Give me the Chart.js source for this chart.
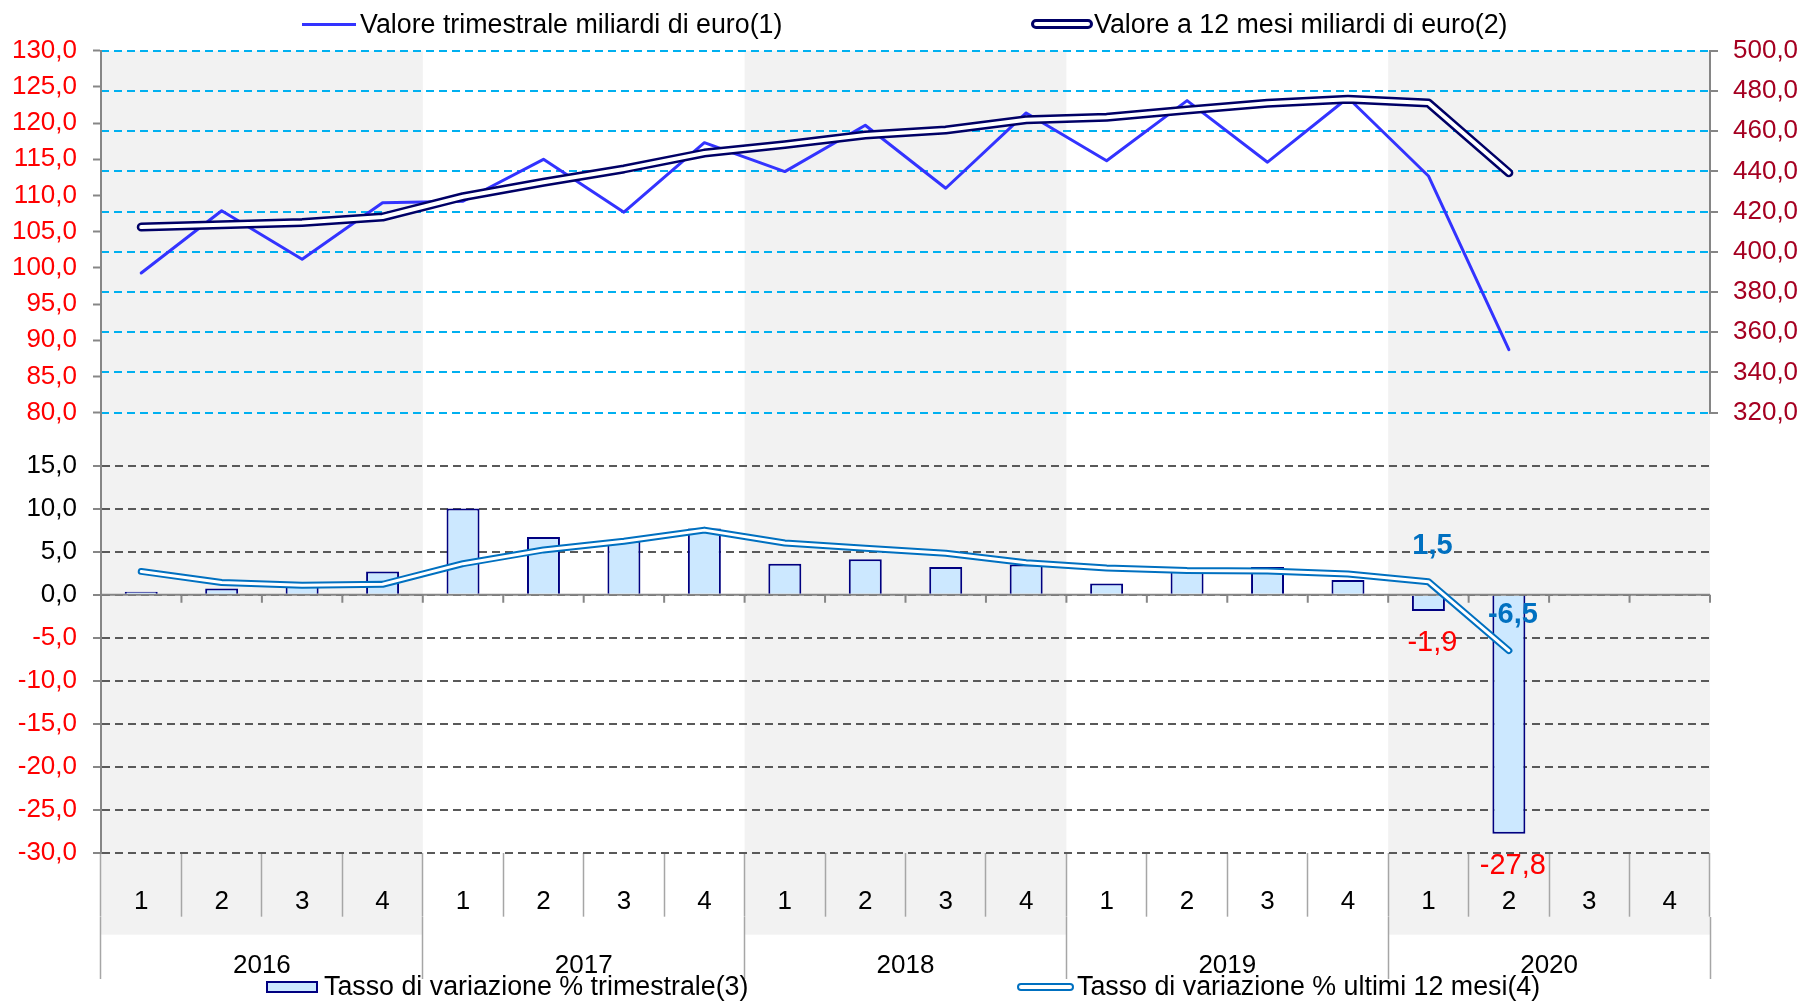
<!DOCTYPE html>
<html lang="it">
<head>
<meta charset="utf-8">
<title>Valore trimestrale e tasso di variazione</title>
<script src="https://cdn.jsdelivr.net/npm/chart.js@4.4.1/dist/chart.umd.min.js"></script>
<style>
    html, body { margin: 0; padding: 0; background: #fff; }
    body { width: 1805px; height: 1001px; position: relative; overflow: hidden;
           font-family: "Liberation Sans", Arial, sans-serif; }
    .panel { position: absolute; left: 0; width: 1805px; }
    #topPanel { top: 0; height: 431px; }
    #bottomPanel { top: 431px; height: 570px; }
    .sample { position: absolute; box-sizing: border-box; }
    .legend-text { position: absolute; font-size: 26.8px; line-height: 30px; color: #000; white-space: nowrap; }
</style>
</head>
<body>
<div id="topPanel" class="panel"><canvas id="topChart"></canvas></div>
<div id="bottomPanel" class="panel"><canvas id="bottomChart"></canvas></div>

<div class="sample" style="left:302px; top:22.5px; width:54px; height:3.5px; background:#3333ff;"></div>
<div class="legend-text" id="leg0" style="left:360px; top:9px;"></div>
<div class="sample" style="left:1031px; top:19px; width:62px; height:10px; border:3px solid #000066; border-radius:5px; background:#fff;"></div>
<div class="legend-text" id="leg1" style="left:1094px; top:9px;"></div>
<div class="sample" style="left:266px; top:981px; width:52px; height:12px; border:2px solid #000080; background:#cce8ff;"></div>
<div class="legend-text" id="leg2" style="left:324px; top:971px;"></div>
<div class="sample" style="left:1017px; top:983px; width:57px; height:8px; border:2.5px solid #0070c0; border-radius:4px; background:#fff;"></div>
<div class="legend-text" id="leg3" style="left:1077px; top:971px;"></div>

<script>
const quarters = ['1', '2', '3', '4', '1', '2', '3', '4', '1', '2', '3', '4', '1', '2', '3', '4', '1', '2', '3', '4'];
const years = ['2016', '2017', '2018', '2019', '2020'];

const seriesNames = [
    'Valore trimestrale miliardi di euro(1)',
    'Valore a 12 mesi miliardi di euro(2)',
    'Tasso di variazione % trimestrale(3)',
    'Tasso di variazione % ultimi 12 mesi(4)'
];

// miliardi di euro
const valoreTrimestrale = [99.3, 107.9, 101.2, 109.0, 109.2, 115.0, 107.7, 117.3, 113.3, 119.7,
    111.0, 121.4, 114.8, 123.1, 114.6, 123.5, 112.7, 88.7, null, null];
const valore12Mesi = [412.3, 413.5, 414.6, 417.3, 427.4, 434.6, 441.2, 449.1, 453.3, 458.1,
    460.6, 465.7, 466.9, 470.5, 473.9, 475.8, 474.0, 439.3, null, null];

// tassi di variazione %
const tassoTrimestrale = [0.1, 0.7, 1.2, 2.7, 10.0, 6.7, 6.3, 7.7, 3.6, 4.1,
    3.2, 3.5, 1.3, 2.8, 3.2, 1.7, -1.9, -27.8, null, null];
const tasso12Mesi = [2.7, 1.4, 1.1, 1.2, 3.6, 5.2, 6.2, 7.5, 6.0, 5.4,
    4.8, 3.7, 3.1, 2.8, 2.75, 2.4, 1.5, -6.5, null, null];

// quarters that get a value label
const labelIndex = [16, 17];

const fmt = (v) => Number(v).toFixed(1).replace('.', ',');

document.addEventListener('DOMContentLoaded', () => {
    seriesNames.forEach((name, i) => {
        document.getElementById('leg' + i).textContent = name;
    });

    Chart.defaults.font.family = '"Liberation Sans", Arial, sans-serif';
    Chart.defaults.font.size = 26;
    Chart.defaults.color = '#000';

    const axisGray = '#868686';

    // grey bands behind even years
    function yearBands(getTop, getBottom) {
        return {
            id: 'yearBands',
            beforeDraw(chart) {
                const {ctx, scales: {x}} = chart;
                const half = (x.getPixelForValue(1) - x.getPixelForValue(0)) / 2;
                const top = getTop(chart);
                const bottom = getBottom(chart);
                ctx.save();
                ctx.fillStyle = '#f2f2f2';
                years.forEach((year, i) => {
                    if (i % 2) return;
                    const x0 = x.getPixelForValue(i * 4) - half;
                    const x1 = x.getPixelForValue(i * 4 + 3) + half;
                    ctx.fillRect(x0, top, x1 - x0, bottom - top);
                });
                ctx.restore();
            }
        };
    }

    // left axis line runs on through the gap between the panels
    function axisLink(getFrom, getTo) {
        return {
            id: 'axisLink',
            afterDraw(chart) {
                const {ctx, chartArea} = chart;
                ctx.save();
                ctx.strokeStyle = axisGray;
                ctx.lineWidth = 2;
                ctx.beginPath();
                ctx.moveTo(chartArea.left, getFrom(chart));
                ctx.lineTo(chartArea.left, getTo(chart));
                ctx.stroke();
                ctx.restore();
            }
        };
    }

    const zeroLine = {
        id: 'zeroLine',
        beforeDatasetsDraw(chart) {
            const {ctx, chartArea, scales: {x, y}} = chart;
            const y0 = y.getPixelForValue(0);
            const half = (x.getPixelForValue(1) - x.getPixelForValue(0)) / 2;
            ctx.save();
            ctx.strokeStyle = axisGray;
            ctx.lineWidth = 2;
            ctx.beginPath();
            ctx.moveTo(chartArea.left, y0);
            ctx.lineTo(chartArea.right, y0);
            for (let i = 0; i < quarters.length; i++) {
                const px = x.getPixelForValue(i) + half;
                ctx.moveTo(px, y0);
                ctx.lineTo(px, y0 + 8);
            }
            ctx.stroke();
            ctx.restore();
        }
    };

    const valueLabels = {
        id: 'valueLabels',
        afterDatasetsDraw(chart) {
            const {ctx} = chart;
            const bars = chart.getDatasetMeta(0).data;
            const line = chart.getDatasetMeta(1).data;
            ctx.save();
            ctx.textAlign = 'center';
            ctx.textBaseline = 'middle';
            labelIndex.forEach((i) => {
                ctx.font = '29px "Liberation Sans", Arial, sans-serif';
                ctx.fillStyle = '#ff0000';
                ctx.fillText(fmt(tassoTrimestrale[i]), bars[i].x + 4, bars[i].y + 32);
                ctx.font = 'bold 29px "Liberation Sans", Arial, sans-serif';
                ctx.fillStyle = '#0070c0';
                ctx.fillText(fmt(tasso12Mesi[i]), line[i].x + 4, line[i].y - 36);
            });
            ctx.restore();
        }
    };

    // Top panel: values
    const ctxTop = document.getElementById('topChart').getContext('2d');
    new Chart(ctxTop, {
        type: 'line',
        data: {
            labels: quarters,
            datasets: [{
                label: seriesNames[0],
                data: valoreTrimestrale,
                yAxisID: 'y',
                borderColor: '#3333ff',
                borderWidth: 3,
                order: 3
            }, {
                label: seriesNames[1],
                data: valore12Mesi,
                yAxisID: 'y2',
                borderColor: '#000066',
                borderWidth: 9,
                order: 2
            }, {
                label: 'core',
                data: valore12Mesi,
                yAxisID: 'y2',
                borderColor: '#ffffff',
                borderWidth: 4,
                order: 1
            }]
        },
        options: {
            responsive: true,
            maintainAspectRatio: false,
            animation: false,
            events: [],
            layout: { padding: { top: 50.7, bottom: 18.3, left: 0, right: 0 } },
            elements: {
                point: { radius: 0 },
                line: { tension: 0, borderCapStyle: 'round', borderJoinStyle: 'round' }
            },
            plugins: { legend: { display: false }, tooltip: { enabled: false } },
            scales: {
                x: { type: 'category', offset: true, display: false },
                y: {
                    position: 'left',
                    min: 80,
                    max: 130,
                    ticks: { stepSize: 5, color: '#ff0000', padding: 16, callback: fmt },
                    grid: { drawOnChartArea: false, tickLength: 8, tickColor: axisGray, tickWidth: 2 },
                    border: { color: axisGray, width: 2 },
                    afterFit: (s) => { s.width = 101; s.paddingTop = 10; s.paddingBottom = 10; }
                },
                y2: {
                    position: 'right',
                    min: 320,
                    max: 500,
                    ticks: { stepSize: 20, color: '#a50021', padding: 15, callback: fmt },
                    grid: { color: '#00b0f0', lineWidth: 2, tickLength: 8, tickColor: axisGray, tickWidth: 2 },
                    border: { color: axisGray, width: 2, dash: [8, 5] },
                    afterFit: (s) => { s.width = 95; s.paddingTop = 10; s.paddingBottom = 10; }
                }
            }
        },
        plugins: [
            yearBands((c) => c.chartArea.top, (c) => c.height),
            axisLink((c) => c.chartArea.bottom, (c) => c.height)
        ]
    });

    // Bottom panel: rates of change
    const ctxBottom = document.getElementById('bottomChart').getContext('2d');
    new Chart(ctxBottom, {
        type: 'bar',
        data: {
            labels: quarters,
            datasets: [{
                type: 'bar',
                label: seriesNames[2],
                data: tassoTrimestrale,
                backgroundColor: '#cce8ff',
                borderColor: '#000080',
                borderWidth: 2,
                minBarLength: 3,
                barPercentage: 0.41,
                categoryPercentage: 1,
                order: 3
            }, {
                type: 'line',
                label: seriesNames[3],
                data: tasso12Mesi,
                borderColor: '#0070c0',
                borderWidth: 7,
                order: 2
            }, {
                type: 'line',
                label: 'core',
                data: tasso12Mesi,
                borderColor: '#ffffff',
                borderWidth: 3,
                order: 1
            }]
        },
        options: {
            responsive: true,
            maintainAspectRatio: false,
            animation: false,
            events: [],
            layout: { padding: { top: 34.6, bottom: 0, left: 0, right: 95 } },
            elements: {
                point: { radius: 0 },
                line: { tension: 0, borderCapStyle: 'round', borderJoinStyle: 'round' }
            },
            plugins: { legend: { display: false }, tooltip: { enabled: false } },
            scales: {
                x: {
                    type: 'category',
                    offset: true,
                    grid: { offset: true, drawOnChartArea: false, tickLength: 64, tickColor: '#a6a6a6', tickWidth: 1.5 },
                    border: { display: false },
                    ticks: { padding: -30.5, color: '#000', maxRotation: 0, autoSkip: false },
                    afterFit: (s) => { s.height = 64.3; }
                },
                x2: {
                    type: 'category',
                    labels: years,
                    position: 'bottom',
                    weight: 1,
                    offset: true,
                    grid: { offset: true, drawOnChartArea: false, tickLength: 62, tickColor: '#a6a6a6', tickWidth: 1.5 },
                    border: { display: false },
                    ticks: { padding: -29, color: '#000', maxRotation: 0, autoSkip: false },
                    afterFit: (s) => { s.height = 84; }
                },
                y: {
                    position: 'left',
                    min: -30,
                    max: 15,
                    ticks: {
                        stepSize: 5,
                        padding: 16,
                        callback: fmt,
                        color: (c) => (c.tick && c.tick.value < 0 ? '#ff0000' : '#000000')
                    },
                    grid: { color: '#595959', lineWidth: 2, tickLength: 8, tickColor: axisGray, tickWidth: 2 },
                    border: { color: axisGray, width: 2, dash: [8, 5] },
                    afterFit: (s) => { s.width = 101; }
                }
            }
        },
        plugins: [
            yearBands(() => 0, (c) => c.chartArea.bottom + 82),
            axisLink(() => 0, (c) => c.chartArea.top),
            zeroLine,
            valueLabels
        ]
    });
});
</script>
</body>
</html>
